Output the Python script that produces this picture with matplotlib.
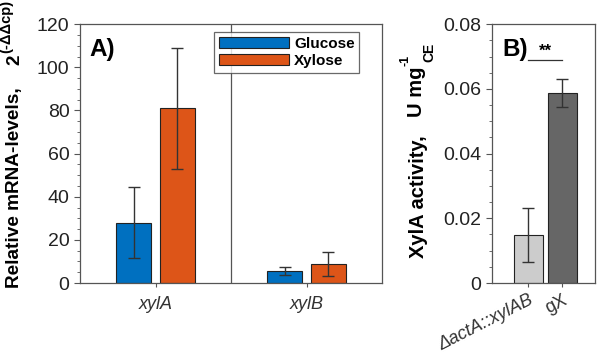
import matplotlib
matplotlib.use("Agg")
import matplotlib.pyplot as plt
import numpy as np
from matplotlib.ticker import MultipleLocator

plt.rcParams['font.family'] = ['Liberation Sans', 'DejaVu Sans']

# Panel A data
genes = ['xylA', 'xylB']
glucose = [28, 5.5]
glucose_err = [16.5, 2.0]
xylose = [81, 8.7]
xylose_err = [28, 5.5]

# Panel B data
strains = ['ΔactA::xylAB', 'gX']
activity = [0.0148, 0.0588]
activity_err = [0.0083, 0.0043]

W, H = 597, 361
fig = plt.figure(figsize=(W / 100, H / 100), dpi=100)
axA = fig.add_axes([0.134, 0.216, 0.506, 0.717])
axB = fig.add_axes([0.824, 0.216, 0.173, 0.717])


def ftext(xp, yp, s, **kw):
    fig.text(xp / W, 1 - yp / H, s, rotation=90, fontweight='bold',
             ha='center', va='center', **kw)


spine_c = '#555555'
err_kw = dict(ecolor='#333333', elinewidth=1, capsize=4.3, capthick=1)

x = np.arange(len(genes))
w = 0.23
off = 0.145
axA.bar(x - off, glucose, w, yerr=glucose_err, color='#0070C0', edgecolor='#222222',
        linewidth=0.8, label='Glucose', error_kw=err_kw)
axA.bar(x + off, xylose, w, yerr=xylose_err, color='#DD5518', edgecolor='#222222',
        linewidth=0.8, label='Xylose', error_kw=err_kw)
axA.axvline(0.5, color=spine_c, lw=0.9)
axA.set_xlim(-0.5, 1.5)
axA.set_ylim(0, 120)
axA.set_xticks(x)
axA.set_xticklabels(genes, style='italic', fontsize=13, color='#333333')
axA.yaxis.set_major_locator(MultipleLocator(20))
axA.yaxis.set_minor_locator(MultipleLocator(5))
axA.tick_params(axis='y', which='major', direction='out', length=4, labelsize=14, colors=spine_c, labelcolor='#222222')
axA.tick_params(axis='y', which='minor', direction='out', length=2, colors=spine_c)
axA.tick_params(axis='x', which='major', direction='out', length=3, colors=spine_c, labelcolor='#333333', pad=6)
for s in axA.spines.values():
    s.set_color(spine_c)
    s.set_linewidth(0.9)

# Panel A y-label (composed)
ftext(15, 188, 'Relative mRNA-levels,', fontsize=13.7)
ftext(15, 60, '2', fontsize=13.7)
ftext(6, 26, '(-ΔΔcp)', fontsize=10.5)

axA.text(0.03, 0.945, 'A)', transform=axA.transAxes, fontsize=17.5, fontweight='bold', va='top')
leg = axA.legend(loc='upper right', bbox_to_anchor=(0.925, 0.968), fancybox=False,
                 edgecolor='#444444', fontsize=11, handlelength=4.6, handleheight=0.7,
                 borderpad=0.3, labelspacing=0.2, handletextpad=0.35, borderaxespad=0)
for t in leg.get_texts():
    t.set_fontweight('bold')
leg.get_frame().set_linewidth(0.9)

xb = np.arange(len(strains))
axB.bar(xb, activity, 0.85, yerr=activity_err, color=['#CCCCCC', '#666666'],
        edgecolor='#222222', linewidth=0.8, error_kw=err_kw)
axB.set_xlim(-1.06, 1.97)
axB.set_ylim(0, 0.08)
axB.yaxis.set_major_locator(MultipleLocator(0.02))
axB.yaxis.set_minor_locator(MultipleLocator(0.005))
axB.set_yticks([0, 0.02, 0.04, 0.06, 0.08])
axB.set_yticklabels(['0', '0.02', '0.04', '0.06', '0.08'])
axB.tick_params(axis='y', which='major', direction='out', length=4, labelsize=14, colors=spine_c, labelcolor='#222222')
axB.tick_params(axis='y', which='minor', direction='out', length=2, colors=spine_c)
axB.tick_params(axis='x', which='major', direction='out', length=3, colors=spine_c, labelcolor='#333333')
axB.set_xticks(xb)
labs = axB.set_xticklabels(strains, rotation=27, ha='right', rotation_mode='anchor', fontsize=13)
labs[0].set_style('italic')
for s in axB.spines.values():
    s.set_color(spine_c)
    s.set_linewidth(0.9)

# Panel B y-label (composed)
ftext(419, 197, 'XylA activity,', fontsize=14.5)
ftext(416, 92, 'U mg', fontsize=14.5)
ftext(405, 60, '-1', fontsize=9)
ftext(429, 52, 'CE', fontsize=10)

axB.text(0.1, 0.945, 'B)', transform=axB.transAxes, fontsize=17.5, fontweight='bold', va='top')
axB.plot([0, 1], [0.0689, 0.0689], color='#333333', lw=0.9)
axB.text(0.5, 0.0693, '**', ha='center', va='bottom', fontsize=12, fontweight='bold')

fig.savefig('out.png', dpi=100)
